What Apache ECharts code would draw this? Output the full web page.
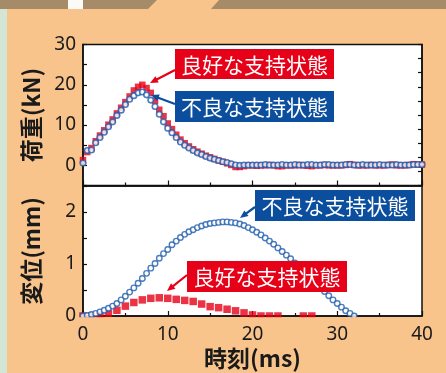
<!DOCTYPE html>
<html><head><meta charset="utf-8">
<script src="https://cdn.jsdelivr.net/npm/echarts@6/dist/echarts.min.js"></script>
<style>html,body{margin:0;padding:0;background:#F8C48B;}#c{width:446px;height:373px;}</style>
</head><body><div id="c"></div>
<script>
// ---- data ----
const topTime = [0,0.5,1,1.5,2,2.5,3,3.5,4,4.5,5,5.5,6,6.5,7,7.5,8,8.5,9,9.5,
  10,10.5,11,11.5,12,12.5,13,13.5,14,14.5,15,15.5,16,16.5,17,17.5,18,18.5,19,19.5,
  20,20.5,21,21.5,22,22.5,23,23.5,24,24.5,25,25.5,26,26.5,27,27.5,28,28.5,29,29.5,
  30,30.5,31,31.5,32,32.5,33,33.5,34,34.5,35,35.5,36,36.5,37,37.5,38,38.5,39,39.5,40];
// 荷重 (kN) 不良な支持状態
const loadBad = [0.6,3.7,3.8,5.6,6.9,8.2,9.6,10.8,12.4,13.7,15.1,16.4,17.3,18.0,18.2,17.5,16.2,14.6,12.7,10.8,
  9.2,8.1,6.9,5.8,5.0,4.3,3.7,3.1,2.7,2.2,1.8,1.5,1.2,0.9,0.7,0.4,0.1,0.0,0.1,0.1,
  0.1,0.1,0.1,0.2,0.1,0.1,0.1,0.2,0.1,0.1,0.2,0.1,0.1,0.2,0.2,0.1,0.1,0.2,0.2,0.1,
  0.1,0.1,0.2,0.2,0.1,0.1,0.2,0.1,0.1,0.1,0.2,0.1,0.1,0.1,0.2,0.1,0.1,0.1,0.2,0.2,0.2];
// 荷重 (kN) 良好な支持状態
const loadGood = [1.3,3.3,4.3,6.0,7.4,8.7,10.1,11.4,12.9,14.3,15.7,17.1,18.6,19.5,20.0,19.2,18.0,16.0,13.8,12.2,
  10.4,9.0,7.6,6.4,5.5,4.7,4.0,3.4,2.9,2.4,2.0,1.6,1.2,0.9,0.5,0.1,-0.4,-0.4,-0.2,0.0,
  0.0,-0.1,0.0,0.0,0.1,0.0,-0.2,-0.2,0.0,0.0,0.0,0.1,0.0,-0.1,-0.2,0.0,0.0,0.1,0.0,0.0,
  0.0,0.0,0.1,0.3,0.1,0.0,0.0,0.0,0.1,0.0,0.0,0.0,0.1,0.2,0.0,0.0,0.0,0.1,0.3,0.2,0.2];

const dispBadTime = [0,0.5,1,1.5,2,2.5,3,3.5,4,4.5,5,5.5,6,6.5,7,7.5,8,8.5,9,9.5,
  10,10.5,11,11.5,12,12.5,13,13.5,14,14.5,15,15.5,16,16.5,17,17.5,18,18.5,19,19.5,
  20,20.5,21,21.5,22,22.5,23,23.5,24,24.5,25,25.5,26,26.5,27,27.5,28,28.5,29,29.5,
  30,30.5,31,31.5,32];
// 変位 (mm) 不良な支持状態
const dispBad = [0,0.01,0.03,0.05,0.08,0.11,0.15,0.19,0.24,0.31,0.38,0.46,0.54,0.63,0.72,0.82,0.92,1.01,1.11,1.20,
  1.28,1.37,1.44,1.51,1.57,1.62,1.66,1.70,1.73,1.76,1.78,1.79,1.80,1.81,1.81,1.80,1.79,1.77,1.74,1.70,
  1.66,1.61,1.56,1.50,1.44,1.38,1.31,1.24,1.17,1.10,1.02,0.95,0.87,0.79,0.71,0.63,0.55,0.47,0.39,0.31,
  0.24,0.17,0.10,0.05,0.0];

const dispGoodTime = [0,1,2,3,4,5,6,7,8,9,10,11,12,13,14,15,16,17,18,19,20,21,22,23,24,25,26,27,28];
// 変位 (mm) 良好な支持状態
const dispGood = [0,0.0,0.01,0.05,0.11,0.19,0.26,0.31,0.34,0.35,0.34,0.32,0.30,0.28,0.23,0.18,0.16,0.13,0.10,0.06,
  0.02,0.0,0.0,0.0,-0.1,-0.1,0.0,0.0,-0.1];

const xTicks = [0,10,20,30,40];
const loadTickLabels = [0,10,20,30];
const dispTickLabels = [0,1,2];

// ---- styles ----
const RED = '#E60018', BLUE = '#0B4E9E', CIRC = '#1F5CAC', ORANGE = '#F8C48B';
const numFont = '"Noto Sans", sans-serif';
const jpFont = '"Noto Sans CJK JP", sans-serif';

function pairs(xs, ys){ return xs.map((x,i)=>[x, ys[i]]); }

const chart = echarts.init(document.getElementById('c'), null, {renderer:'canvas'});

const axisLineStyle = {lineStyle:{color:'#111', width:1.5}};
const titleStyle = {fontSize:23, fontWeight:'bold', color:'#1a1a1a', fontFamily:jpFont};
function xAxisCfg(grid, showLabel){
  const c = {
    type:'value', gridIndex:grid, min:0, max:40, interval:10,
    axisLine:{show:true, onZero:false, ...axisLineStyle},
    axisTick:{show:true, inside:true, length:5, lineStyle:{color:'#111', width:1.2}},
    minorTick:{show:true, splitNumber:2, length:3, lineStyle:{color:'#111', width:1.2}},
    splitLine:{show:false},
    axisLabel:{show:showLabel, color:'#1a1a1a', fontSize:19, fontFamily:numFont, margin:9,
      formatter:v=> xTicks.includes(v) ? String(v) : ''}
  };
  if (showLabel){
    c.name = '時刻(ms)'; c.nameLocation='middle'; c.nameGap=31;
    c.nameTextStyle = titleStyle;
  }
  return c;
}

const option = {
  backgroundColor: ORANGE,
  animation:false,
  grid:[
    {left:83, top:44.5, width:339, height:141, show:true, backgroundColor:'#fff', borderColor:'#111', borderWidth:1.5},
    {left:83, top:186, width:339, height:130, show:true, backgroundColor:'#fff', borderColor:'#111', borderWidth:1.5}
  ],
  xAxis:[ xAxisCfg(0,false), xAxisCfg(1,true) ],
  yAxis:[
    {type:'value', gridIndex:0, min:-5, max:30, interval:5,
     axisLine:{show:true, onZero:false, ...axisLineStyle},
     axisTick:{show:true, inside:true, length:4, lineStyle:{color:'#111', width:1.2}},
     splitLine:{show:false},
     axisLabel:{color:'#1a1a1a', fontSize:19, fontFamily:numFont, margin:7,
       formatter:v=> loadTickLabels.includes(v) ? String(v) : ''},
     name:'荷重(kN)', nameLocation:'middle', nameGap:40, nameTextStyle:titleStyle},
    {type:'value', gridIndex:0, position:'right', min:0, max:10, interval:1,
     axisLine:{show:true, onZero:false, ...axisLineStyle},
     axisTick:{show:true, inside:true, length:4, lineStyle:{color:'#111', width:1.2}},
     splitLine:{show:false}, axisLabel:{show:false}},
    {type:'value', gridIndex:1, min:0, max:2.5, interval:0.5,
     axisLine:{show:true, onZero:false, ...axisLineStyle},
     axisTick:{show:true, inside:true, length:4, lineStyle:{color:'#111', width:1.2}},
     splitLine:{show:false},
     axisLabel:{color:'#1a1a1a', fontSize:19, fontFamily:numFont, margin:7,
       formatter:v=> dispTickLabels.includes(v) ? String(v) : ''},
     name:'変位(mm)', nameLocation:'middle', nameGap:40, nameTextStyle:titleStyle}
  ],
  series:[
    {type:'scatter', xAxisIndex:0, yAxisIndex:0, data:pairs(topTime, loadGood),
     symbol:'rect', symbolSize:6.5, itemStyle:{color:RED}, z:3},
    {type:'scatter', xAxisIndex:0, yAxisIndex:0, data:pairs(topTime, loadBad),
     symbol:'circle', symbolSize:5.5, itemStyle:{color:'#fff', borderColor:CIRC, borderWidth:1.6}, z:4},
    {type:'scatter', xAxisIndex:1, yAxisIndex:2, data:pairs(dispGoodTime, dispGood),
     symbol:'rect', symbolSize:7.5, itemStyle:{color:RED}, z:3},
    {type:'scatter', xAxisIndex:1, yAxisIndex:2, data:pairs(dispBadTime, dispBad),
     symbol:'circle', symbolSize:5.5, itemStyle:{color:'#fff', borderColor:CIRC, borderWidth:1.4}, z:4}
  ],
  graphic: []
};

function arrow(x1,y1,x2,y2,color){
  const dx=x2-x1, dy=y2-y1, L=Math.hypot(dx,dy), ux=dx/L, uy=dy/L;
  const hl=8, hw=3.5;
  const bx=x2-ux*hl, by=y2-uy*hl;
  return [
    {type:'line', shape:{x1:x1,y1:y1,x2:bx+ux*1,y2:by+uy*1}, style:{stroke:color, lineWidth:2.2}, z:20},
    {type:'polygon', shape:{points:[[x2,y2],[bx-uy*hw,by+ux*hw],[bx+uy*hw,by-ux*hw]]}, style:{fill:color}, z:20}
  ];
}
function label(x,y,w,h,text,color){
  return [
    {type:'rect', shape:{x:x,y:y,width:w,height:h}, style:{fill:color}, z:21},
    {type:'text', x:x+w/2, y:y+h/2+1, style:{text:text, fill:'#fff', font:'21px '+jpFont,
      align:'center', verticalAlign:'middle', textAlign:'center', textVerticalAlign:'middle'}, z:22}
  ];
}

option.graphic = [
  // decorative page frame
  {type:'polygon', shape:{points:[[0,0],[157,0],[148,9],[0,9]]}, style:{fill:'#A58B67'}, z:1},
  {type:'polygon', shape:{points:[[219,0],[446,0],[446,9],[211,9]]}, style:{fill:'#A58B67'}, z:1},
  {type:'rect', shape:{x:68,y:0,width:15,height:9}, style:{fill:'#FBFAF6'}, z:2},
  {type:'rect', shape:{x:0,y:9,width:7,height:364}, style:{fill:'#D3E6D5'}, z:1},
  // mask below the lower plot's x axis (clip the symbols there)
  {type:'rect', shape:{x:78,y:317.2,width:350,height:6}, style:{fill:ORANGE}, z:15},
  ...arrow(175,70,150,83,RED),
  ...arrow(175,104,151,95,BLUE),
  ...arrow(255,207,240,218,BLUE),
  ...arrow(187,275,167,291,RED),
  ...label(175,49,159,30,'良好な支持状態',RED),
  ...label(175,91,159,31,'不良な支持状態',BLUE),
  ...label(255,190,160,31,'不良な支持状態',BLUE),
  ...label(187,261,160,31,'良好な支持状態',RED)
];

chart.setOption(option);
</script>
</body></html>
